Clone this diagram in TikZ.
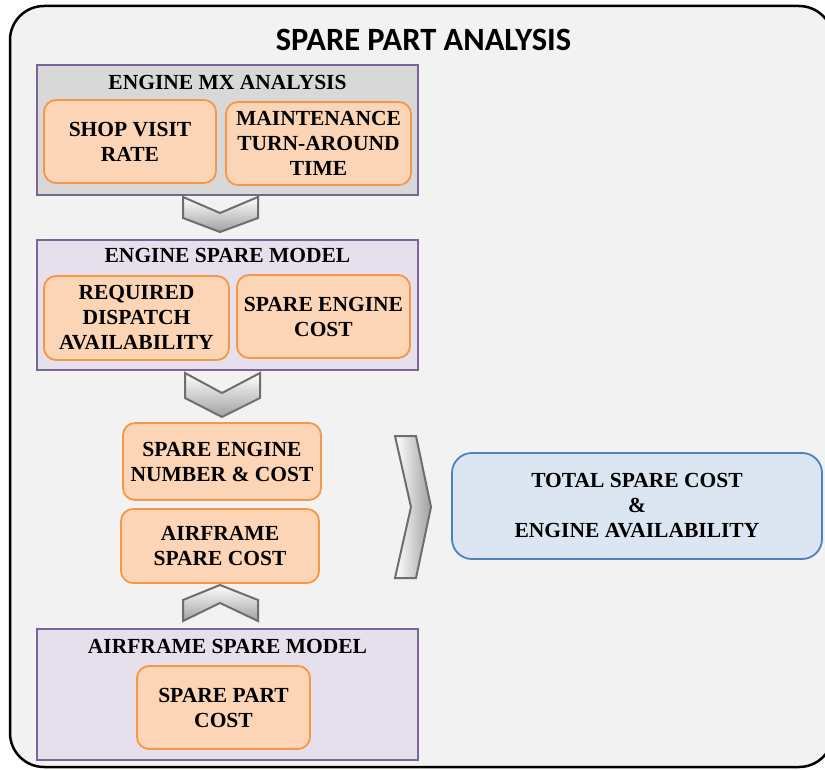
\documentclass[tikz,border=0pt]{standalone}
\usepackage{fontspec}
\setmainfont{Liberation Serif}
\newfontfamily\titlefont{Carlito}
\definecolor{framefill}{HTML}{F2F2F2}
\definecolor{grayfill}{HTML}{D8D8D8}
\definecolor{purplefill}{HTML}{E5E0EC}
\definecolor{purpleline}{HTML}{7B6597}
\definecolor{orangefill}{HTML}{FBD5B5}
\definecolor{orangeline}{HTML}{F79646}
\definecolor{bluefill}{HTML}{DCE6F2}
\definecolor{blueline}{HTML}{4F81BD}
\definecolor{chevline}{HTML}{6E6E6E}
\definecolor{chevdark}{HTML}{A0A0A0}
\tikzset{
  grp/.style={draw=purpleline, line width=2pt, inner sep=0pt},
  grptitle/.style={font=\fontsize{21.5}{25}\selectfont\bfseries, inner sep=0pt},
  obox/.style={draw=orangeline, fill=orangefill, line width=1.8pt, rounded corners=12pt,
    align=center, inner sep=0pt, font=\fontsize{21.5}{25}\selectfont\bfseries},
  tbox/.style={draw=blueline, fill=bluefill, line width=1.8pt, rounded corners=20pt,
    align=center, inner sep=0pt, font=\fontsize{21.5}{25}\selectfont\bfseries},
  chev/.style={draw=chevline, line width=2pt, line join=miter},
}
\begin{document}
\begin{tikzpicture}[x=1pt,y=-1pt]
\useasboundingbox (0,0) rectangle (825,770);
\clip (0,0) rectangle (825,770);
% outer frame
\draw[fill=framefill, line width=2.5pt, rounded corners=34pt] (10,6) rectangle (833,767);
\node[font=\titlefont\fontsize{32.5}{36}\selectfont\bfseries, inner sep=0pt] (title) at (423.5,40) {SPARE PART ANALYSIS};

% group 1
\node[grp, fill=grayfill, minimum width=381pt, minimum height=130pt] (g1) at (227.5,130) {};
\node[grptitle] (g1t) at (227.5,82) {ENGINE MX ANALYSIS};
\node[obox, minimum width=172pt, minimum height=83pt] (svr) at (130,141.5) {SHOP VISIT\\RATE};
\node[obox, minimum width=185pt, minimum height=83pt] (mtat) at (318.5,143.5) {MAINTENANCE\\TURN-AROUND\\TIME};

% chevron down 1
\path[chev, top color=white, bottom color=chevdark]
  (183,197) -- (220,213) -- (258,197) -- (258,218) -- (220,232) -- (183,218) -- cycle;

% group 2
\node[grp, fill=purplefill, minimum width=381pt, minimum height=130pt] (g2) at (227.5,305) {};
\node[grptitle] (g2t) at (227.5,255.5) {ENGINE SPARE MODEL};
\node[obox, minimum width=185pt, minimum height=84pt] (rda) at (136.5,318) {REQUIRED\\DISPATCH\\AVAILABILITY};
\node[obox, minimum width=173pt, minimum height=83pt] (sec) at (323.5,316.5) {SPARE ENGINE\\COST};

% chevron down 2
\path[chev, top color=white, bottom color=chevdark]
  (185,373) -- (222,393) -- (260,373) -- (260,398) -- (222,417) -- (185,398) -- cycle;

% middle boxes
\node[obox, minimum width=198pt, minimum height=77pt] (senc) at (222,461.5) {SPARE ENGINE\\NUMBER \& COST};
\node[obox, minimum width=198pt, minimum height=74pt] (asc) at (220,546) {AIRFRAME\\SPARE COST};

% chevron up
\path[chev, top color=white, bottom color=chevdark]
  (220,585) -- (258,600) -- (258,621) -- (220,603) -- (183,621) -- (183,600) -- cycle;

% group 3
\node[grp, fill=purplefill, minimum width=381pt, minimum height=131pt] (g3) at (227.5,694.5) {};
\node[grptitle] (g3t) at (227.5,646) {AIRFRAME SPARE MODEL};
\node[obox, minimum width=173pt, minimum height=83pt] (spc) at (223.5,707.5) {SPARE PART\\COST};

% chevron right
\path[chev, left color=white, right color=chevdark]
  (395,436) -- (416,436) -- (431,507) -- (416,578) -- (395,578) -- (411,507) -- cycle;

% total box
\node[tbox, minimum width=370pt, minimum height=106pt] (total) at (637,506) {TOTAL SPARE COST\\\&\\ENGINE AVAILABILITY};
\end{tikzpicture}
\end{document}
